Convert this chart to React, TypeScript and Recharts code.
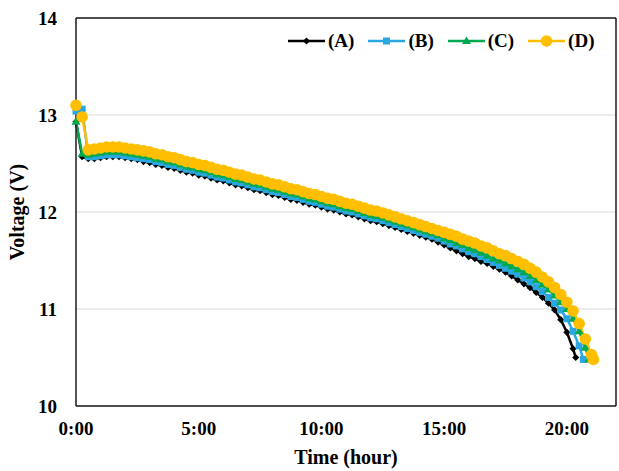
import React from 'react';
import { LineChart, Line, XAxis, YAxis, CartesianGrid, ReferenceLine } from 'recharts';

// time in hours (shared grid), each series ends at its own cut-off point
const hours = [
  0, 0.25, 0.5, 0.75, 1, 1.25, 1.5, 1.75, 2, 2.25, 2.5, 2.75, 3, 3.25, 3.5, 3.75,
  4, 4.25, 4.5, 4.75, 5, 5.25, 5.5, 5.75, 6, 6.25, 6.5, 6.75, 7, 7.25, 7.5, 7.75,
  8, 8.25, 8.5, 8.75, 9, 9.25, 9.5, 9.75, 10, 10.25, 10.5, 10.75, 11, 11.25, 11.5, 11.75,
  12, 12.25, 12.5, 12.75, 13, 13.25, 13.5, 13.75, 14, 14.25, 14.5, 14.75, 15, 15.25, 15.5, 15.75,
  16, 16.25, 16.5, 16.75, 17, 17.25, 17.5, 17.75, 18, 18.25, 18.5, 18.75, 19, 19.25, 19.5, 19.75,
  20, 20.25, 20.5, 20.75, 21,
];

const voltsA = [
  12.93, 12.57, 12.55, 12.55, 12.56, 12.57, 12.57, 12.57, 12.56, 12.55, 12.54, 12.52, 12.51, 12.49, 12.48, 12.46,
  12.45, 12.43, 12.41, 12.40, 12.38, 12.37, 12.35, 12.33, 12.32, 12.30, 12.28, 12.27, 12.25, 12.23, 12.22, 12.20,
  12.18, 12.17, 12.15, 12.13, 12.12, 12.10, 12.08, 12.07, 12.05, 12.03, 12.02, 12.00, 11.98, 11.97, 11.95, 11.93,
  11.91, 11.90, 11.88, 11.86, 11.84, 11.82, 11.80, 11.78, 11.76, 11.74, 11.72, 11.69, 11.66, 11.63, 11.60, 11.57,
  11.54, 11.52, 11.49, 11.47, 11.44, 11.41, 11.38, 11.34, 11.30, 11.26, 11.22, 11.17, 11.12, 11.06, 10.99, 10.89,
  10.76, 10.59,
];
const endA = [20.36, 10.5];

const voltsB = [
  13.04, 13.06, 12.57, 12.57, 12.58, 12.59, 12.59, 12.59, 12.58, 12.57, 12.56, 12.55, 12.54, 12.52, 12.51, 12.49,
  12.48, 12.46, 12.44, 12.43, 12.41, 12.40, 12.38, 12.36, 12.35, 12.33, 12.31, 12.30, 12.28, 12.26, 12.25, 12.23,
  12.21, 12.20, 12.18, 12.16, 12.15, 12.13, 12.11, 12.10, 12.08, 12.06, 12.05, 12.03, 12.01, 12.00, 11.98, 11.96,
  11.94, 11.93, 11.91, 11.89, 11.87, 11.85, 11.83, 11.81, 11.79, 11.77, 11.75, 11.73, 11.70, 11.67, 11.65, 11.62,
  11.59, 11.57, 11.54, 11.51, 11.48, 11.45, 11.42, 11.39, 11.36, 11.32, 11.28, 11.23, 11.18, 11.12, 11.06, 10.99,
  10.90, 10.77, 10.62,
];
const endB = [20.67, 10.48];

const voltsC = [
  12.93, 12.60, 12.59, 12.60, 12.61, 12.62, 12.62, 12.62, 12.61, 12.60, 12.59, 12.58, 12.57, 12.55, 12.54, 12.52,
  12.51, 12.49, 12.47, 12.46, 12.44, 12.43, 12.41, 12.39, 12.38, 12.36, 12.34, 12.33, 12.31, 12.29, 12.28, 12.26,
  12.24, 12.23, 12.21, 12.19, 12.18, 12.16, 12.14, 12.13, 12.11, 12.09, 12.08, 12.06, 12.04, 12.03, 12.01, 11.99,
  11.97, 11.96, 11.94, 11.92, 11.90, 11.88, 11.86, 11.84, 11.82, 11.80, 11.78, 11.76, 11.73, 11.71, 11.68, 11.66,
  11.63, 11.61, 11.58, 11.55, 11.52, 11.50, 11.47, 11.44, 11.41, 11.38, 11.34, 11.30, 11.25, 11.20, 11.14, 11.07,
  11.00, 10.90, 10.77, 10.60,
];
const endC = [20.9, 10.48];

const voltsD = [
  13.10, 12.98, 12.64, 12.65, 12.66, 12.67, 12.67, 12.67, 12.66, 12.65, 12.64, 12.63, 12.62, 12.60, 12.59, 12.57,
  12.56, 12.54, 12.52, 12.51, 12.49, 12.48, 12.46, 12.44, 12.43, 12.41, 12.39, 12.38, 12.36, 12.34, 12.33, 12.31,
  12.29, 12.28, 12.26, 12.24, 12.23, 12.21, 12.19, 12.18, 12.16, 12.14, 12.13, 12.11, 12.09, 12.08, 12.06, 12.04,
  12.02, 12.01, 11.99, 11.97, 11.95, 11.93, 11.91, 11.89, 11.87, 11.85, 11.83, 11.81, 11.79, 11.77, 11.75, 11.72,
  11.70, 11.68, 11.65, 11.63, 11.60, 11.57, 11.55, 11.52, 11.49, 11.46, 11.42, 11.38, 11.33, 11.28, 11.22, 11.15,
  11.07, 10.98, 10.85, 10.69, 10.53,
];
const endD = [21.08, 10.48];

const xTicks = [0, 5, 10, 15, 20];
const yTicks = [10, 11, 12, 13, 14];

const toPoints = (volts: number[], end: number[]) =>
  volts.map((v, i) => ({ h: hours[i], v })).concat([{ h: end[0], v: end[1] }]);

const FONT = '"Liberation Serif", "Times New Roman", serif';

type Shape = 'diamond' | 'square' | 'triangle' | 'circle';

const Marker = ({ shape, cx, cy, color }: { shape: Shape; cx: number; cy: number; color: string }) => {
  if (shape === 'diamond') {
    const r = 3.6;
    return <polygon points={`${cx},${cy - r} ${cx + r},${cy} ${cx},${cy + r} ${cx - r},${cy}`} fill={color} />;
  }
  if (shape === 'square') {
    return <rect x={cx - 3.5} y={cy - 3.5} width={7} height={7} fill={color} />;
  }
  if (shape === 'triangle') {
    return <polygon points={`${cx},${cy - 4.5} ${cx + 4.5},${cy + 3} ${cx - 4.5},${cy + 3}`} fill={color} />;
  }
  return <circle cx={cx} cy={cy} r={5.8} fill={color} />;
};

const series = [
  { name: '(A)', color: '#000000', shape: 'diamond' as Shape, data: toPoints(voltsA, endA) },
  { name: '(B)', color: '#2aa7e0', shape: 'square' as Shape, data: toPoints(voltsB, endB) },
  { name: '(C)', color: '#00a950', shape: 'triangle' as Shape, data: toPoints(voltsC, endC) },
  { name: '(D)', color: '#ffbf00', shape: 'circle' as Shape, data: toPoints(voltsD, endD) },
];

const tickStyle = { fontFamily: FONT, fontWeight: 700, fontSize: 19, fill: '#000' };
const titleStyle = { ...tickStyle, fontSize: 20 };

export default function App() {
  return (
    <div style={{ position: 'relative', width: 619, height: 471, background: '#fff' }}>
      <style>{'body{margin:0}'}</style>
      <LineChart width={619} height={471} margin={{ top: 18, right: 3, left: 0, bottom: 0 }}>
        <CartesianGrid vertical={false} stroke="#d9d9d9" strokeWidth={1.2} />
        <XAxis
          type="number"
          dataKey="h"
          domain={[0, 22]}
          ticks={xTicks}
          tickFormatter={(h: number) => `${h}:00`}
          height={65}
          tickLine={false}
          tickSize={0}
          tickMargin={16}
          axisLine={{ stroke: '#1a1a1a', strokeWidth: 1.5 }}
          tick={tickStyle}
          label={{ value: 'Time (hour)', position: 'insideBottom', offset: 7, style: titleStyle }}
        />
        <YAxis
          type="number"
          domain={[10, 14]}
          ticks={yTicks}
          width={76}
          tickLine={false}
          tickSize={0}
          tickMargin={19}
          axisLine={{ stroke: '#1a1a1a', strokeWidth: 1.5 }}
          tick={tickStyle}
          label={{ value: 'Voltage (V)', angle: -90, position: 'insideLeft', offset: 17, style: { ...titleStyle, textAnchor: 'middle' } }}
        />
        <ReferenceLine y={14} stroke="#1a1a1a" strokeWidth={1.5} />
        <ReferenceLine x={22} stroke="#1a1a1a" strokeWidth={1.5} />
        {series.map((s) => (
          <Line
            key={s.name}
            data={s.data}
            dataKey="v"
            name={s.name}
            stroke={s.color}
            strokeWidth={2.5}
            isAnimationActive={false}
            dot={(p: any) => <Marker key={`${s.name}-${p.index}`} shape={s.shape} cx={p.cx} cy={p.cy} color={s.color} />}
            activeDot={false}
          />
        ))}
      </LineChart>

      {/* legend */}
      <div style={{ position: 'absolute', left: 288, top: 29, display: 'flex', gap: 14, fontFamily: FONT, fontWeight: 700, fontSize: 19 }}>
        {series.map((s) => (
          <div key={s.name} style={{ display: 'flex', alignItems: 'center' }}>
            <svg width={38} height={24}>
              <line x1={0} y1={12} x2={37} y2={12} stroke={s.color} strokeWidth={2.5} />
              <Marker shape={s.shape} cx={18.5} cy={12} color={s.color} />
            </svg>
            <span style={{ marginLeft: 2 }}>{s.name}</span>
          </div>
        ))}
      </div>
    </div>
  );
}
